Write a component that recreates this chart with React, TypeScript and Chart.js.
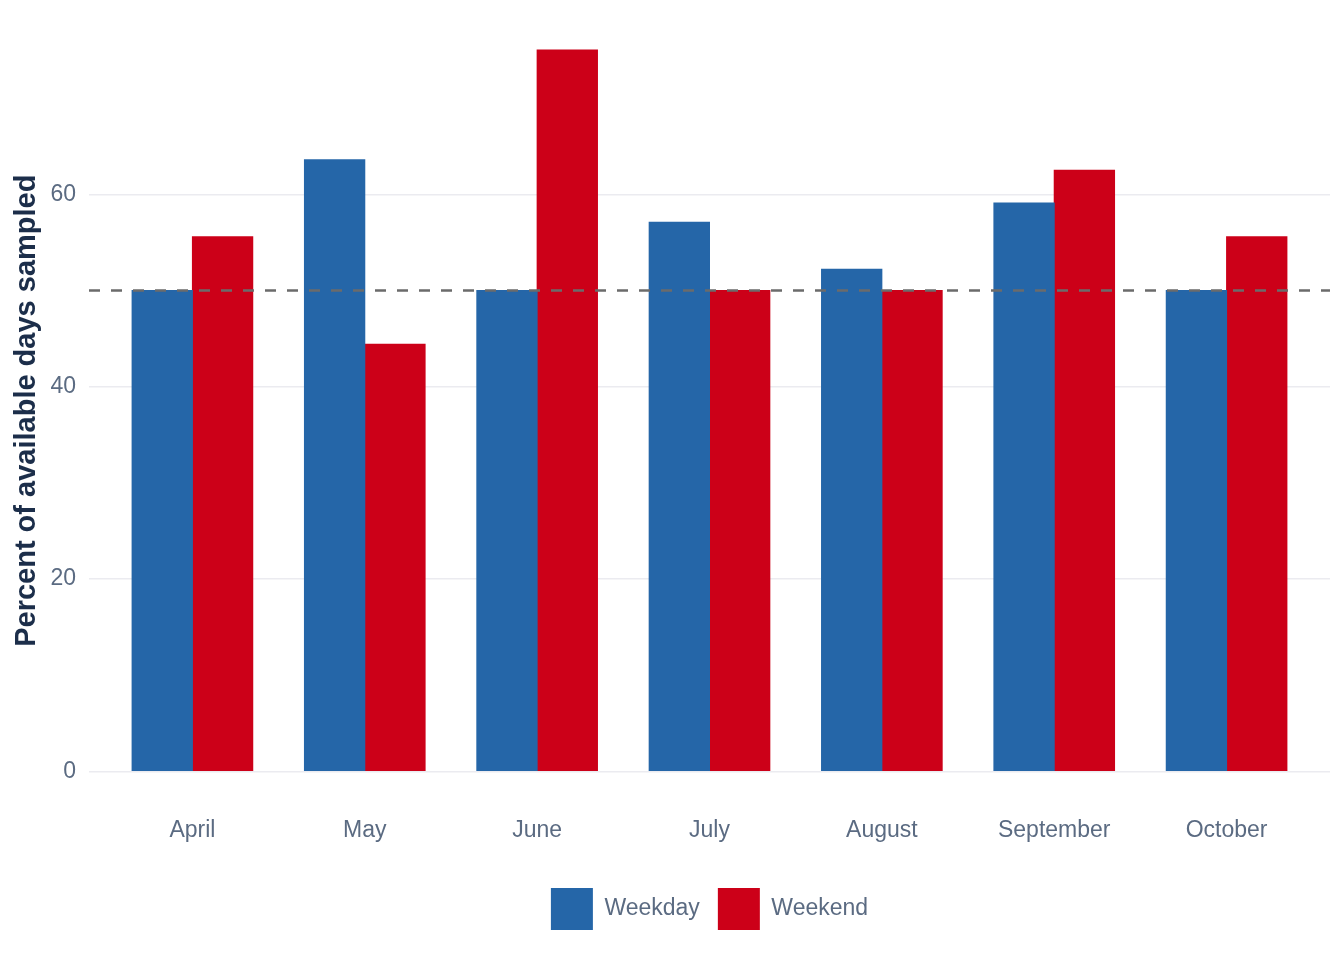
import React, { useEffect, useRef } from "react";
import { Chart, registerables } from "chart.js";

Chart.register(...registerables);

const months = ["April", "May", "June", "July", "August", "September", "October"];
const weekday = [50, 63.6, 50, 57.1, 52.2, 59.1, 50];
const weekend = [55.6, 44.4, 75, 50, 50, 62.5, 55.6];
const yTicks = [0, 20, 40, 60];
const refValue = 50;

const FONT = "'Liberation Sans', Arial, Helvetica, sans-serif";

const refLine = {
  id: "refLine",
  afterDatasetsDraw(chart: any) {
    const { ctx, chartArea, scales } = chart;
    const y = scales.y.getPixelForValue(refValue);
    ctx.save();
    ctx.strokeStyle = "#6b6b6b";
    ctx.lineWidth = 2.5;
    ctx.setLineDash([11, 11]);
    ctx.beginPath();
    ctx.moveTo(chartArea.left, y);
    ctx.lineTo(chartArea.right, y);
    ctx.stroke();
    ctx.restore();
  },
};

export default function App() {
  const ref = useRef<HTMLCanvasElement>(null);
  useEffect(() => {
    const chart = new Chart(ref.current as HTMLCanvasElement, {
      type: "bar",
      data: {
        datasets: [
          {
            label: "Weekday",
            data: weekday.map((v, i) => ({ x: i + 1, y: v })),
            backgroundColor: "#2566a8",
            categoryPercentage: 0.7,
            barPercentage: 1,
            inflateAmount: 0.5,
          },
          {
            label: "Weekend",
            data: weekend.map((v, i) => ({ x: i + 1, y: v })),
            backgroundColor: "#cc0018",
            categoryPercentage: 0.7,
            barPercentage: 1,
            inflateAmount: 0.5,
          },
        ],
      },
      plugins: [refLine],
      options: {
        animation: false,
        responsive: true,
        maintainAspectRatio: false,
        layout: { padding: { left: 10, right: 14, top: 14, bottom: 20 } },
        scales: {
          x: {
            type: "linear",
            min: 0.4,
            max: 7.6,
            offset: false,
            grid: { display: false },
            border: { display: false },
            afterBuildTicks: (scale: any) => {
              scale.ticks = months.map((_, i) => ({ value: i + 1 }));
            },
            afterFit: (scale: any) => {
              scale.height += 25;
            },
            ticks: {
              autoSkip: false,
              maxRotation: 0,
              padding: 1,
              color: "#5b6b82",
              font: { family: FONT, size: 23 },
              callback: (v: any) => months[Number(v) - 1] ?? "",
            },
          },
          y: {
            min: -3.75,
            max: 78.75,
            afterBuildTicks: (scale: any) => {
              scale.ticks = yTicks.map((v) => ({ value: v }));
            },
            afterFit: (scale: any) => {
              scale.width = 79;
              scale.paddingTop = 0;
              scale.paddingBottom = 0;
            },
            grid: { color: "#ebebf0", lineWidth: 1.5, drawTicks: false },
            border: { display: false },
            ticks: {
              padding: 13,
              color: "#5b6b82",
              font: { family: FONT, size: 23 },
            },
            title: {
              display: true,
              text: "Percent of available days sampled",
              color: "#1c2e4a",
              font: { family: FONT, size: 29, weight: "bold" },
              padding: { top: 0, bottom: 6 },
            },
          },
        },
        plugins: {
          legend: {
            position: "bottom",
            fullSize: false,
            labels: {
              boxWidth: 42,
              boxHeight: 42,
              padding: 18,
              color: "#5b6b82",
              font: { family: FONT, size: 23 },
            },
          },
          tooltip: { enabled: false },
        },
      },
    } as any);
    return () => chart.destroy();
  }, []);
  return (
    <div style={{ position: "fixed", left: 0, top: 0, width: 1344, height: 960 }}>
      <canvas ref={ref} />
    </div>
  );
}
